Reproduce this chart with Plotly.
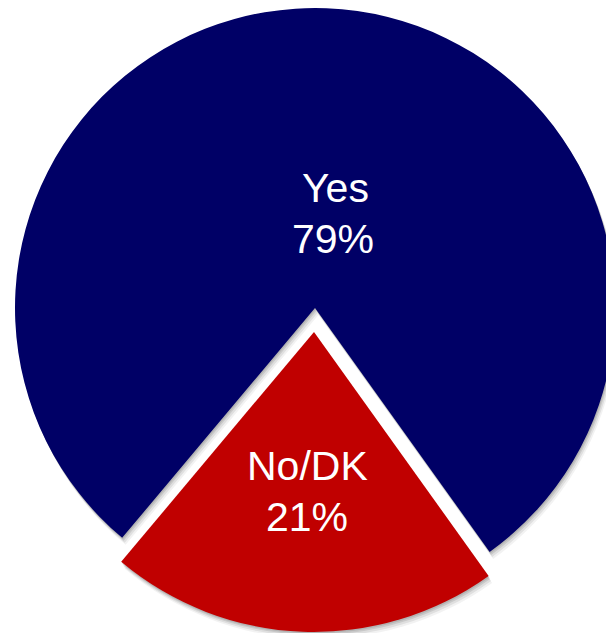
import plotly.graph_objects as go

labels = ["Yes", "No/DK"]
values = [79, 21]
pct_text = ["79%", "21%"]
colors = ["#000066", "#C00000"]

# Figure is a little larger than the window so the pie is cropped like the reference
W, H = 620, 640
OFF = 0  # page margin (removed by post_script)
R = 300
CX_YES, CY_YES = 315 - OFF, 308 - OFF
CX_RED, CY_RED = 314 - OFF, 332 - OFF
CLEAR = "rgba(0,0,0,0)"


def dom(cx, cy, r):
    x0 = max(0.0, (cx - r) / W)
    x1 = min(1.0, (cx + r) / W)
    y0 = max(0.0, (H - (cy + r)) / H)
    y1 = min(1.0, (H - (cy - r)) / H)
    return dict(x=[x0, x1], y=[y0, y1])


common = dict(labels=labels, values=values, sort=False, direction="clockwise",
              rotation=-140, hoverinfo="skip", showlegend=False, textinfo="none")

traces = []
# soft shadows
for off, a in [(7, 0.05), (5, 0.08), (3, 0.10), (1.5, 0.10)]:
    traces.append(go.Pie(**common,
                         marker=dict(colors=[f"rgba(0,0,0,{a})", CLEAR], line=dict(width=0)),
                         domain=dom(CX_YES + off * 0.5, CY_YES + off, R)))
    traces.append(go.Pie(**common,
                         marker=dict(colors=[CLEAR, f"rgba(0,0,0,{a})"], line=dict(width=0)),
                         domain=dom(CX_RED + off * 0.5, CY_RED + off, R)))

traces.append(go.Pie(**common,
                     marker=dict(colors=[colors[0], CLEAR], line=dict(width=0)),
                     domain=dom(CX_YES, CY_YES, R)))
traces.append(go.Pie(**common,
                     marker=dict(colors=[CLEAR, colors[1]], line=dict(width=0)),
                     domain=dom(CX_RED, CY_RED, R)))

fig = go.Figure(traces)


def ann(text, sx, sy):
    fig.add_annotation(text=text, x=(sx - OFF) / W, y=1 - (sy - OFF) / H,
                       xref="paper", yref="paper", showarrow=False,
                       xanchor="center", yanchor="middle",
                       font=dict(family="Liberation Sans, Arial", size=41, color="white"))


# label positions (screen px of each text line's centre)
ann(labels[0], 335, 188)
ann(pct_text[0], 333, 239)
ann(labels[1], 307.5, 466)
ann(pct_text[1], 307, 517)

fig.update_layout(width=W, height=H, margin=dict(l=0, r=0, t=0, b=0),
                  paper_bgcolor="white", plot_bgcolor="white")
fig.write_html(
    "out.html",
    config={"displayModeBar": False, "staticPlot": True},
    post_script=("document.body.style.margin='0';"
                 "document.body.style.overflow='hidden';"
                 "document.documentElement.style.overflow='hidden';"),
)
